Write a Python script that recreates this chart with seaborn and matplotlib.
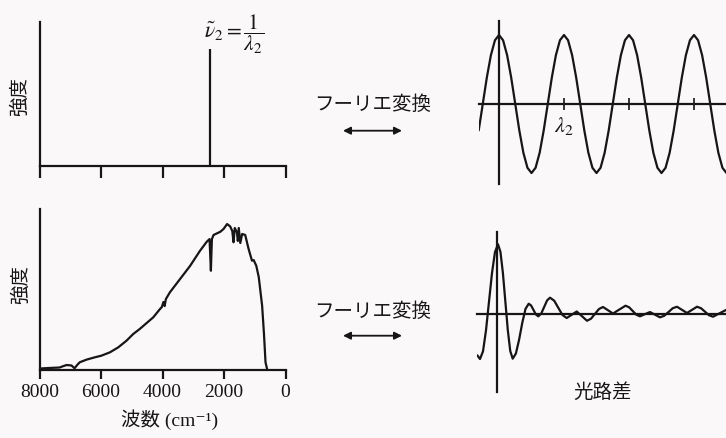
import matplotlib
matplotlib.use("Agg")
import matplotlib.pyplot as plt
import numpy as np
import seaborn as sns

# ---- data ----
# monochromatic line (top left)
line_nu = 2450          # cm-1
line_height = 0.81

# broadband source spectrum (bottom left), wavenumber cm-1 / relative intensity
spec_nu = [8000, 7670, 7350, 7220, 7120, 6960, 6860, 6760, 6690, 6470, 6200, 5990,
           5710, 5440, 5170, 4950, 4740, 4300, 4080, 4020, 3970, 3930, 3890, 3760,
           3430, 3100, 2780, 2560, 2470, 2440, 2426, 2410, 2393, 2340, 2120, 2015,
           1900, 1800, 1730, 1690, 1650, 1580, 1550, 1520, 1470, 1410, 1310, 1200,
           1090, 1035, 950, 870, 760, 700, 650, 600]
spec_int = [0.010, 0.014, 0.017, 0.027, 0.034, 0.031, 0.012, 0.038, 0.053, 0.071,
            0.087, 0.098, 0.121, 0.155, 0.201, 0.247, 0.281, 0.361, 0.418, 0.432,
            0.466, 0.438, 0.486, 0.532, 0.623, 0.714, 0.817, 0.879, 0.897, 0.747,
            0.680, 0.795, 0.897, 0.925, 0.947, 0.966, 1.000, 0.984, 0.952, 0.875,
            0.973, 0.943, 0.884, 0.973, 0.870, 0.932, 0.925, 0.829, 0.749, 0.753,
            0.714, 0.637, 0.440, 0.247, 0.053, 0.007]
spec_ticks = [8000, 6000, 4000, 2000, 0]

# interferogram of the single line (top right), path difference in units of lambda_2
cos_x = np.arange(-5, 57) / 16
cos_y = [-0.383, 0, 0.383, 0.707, 0.924,
         1, 0.924, 0.707, 0.383, 0, -0.383, -0.707, -0.924,
         -1, -0.924, -0.707, -0.383, 0, 0.383, 0.707, 0.924,
         1, 0.924, 0.707, 0.383, 0, -0.383, -0.707, -0.924,
         -1, -0.924, -0.707, -0.383, 0, 0.383, 0.707, 0.924,
         1, 0.924, 0.707, 0.383, 0, -0.383, -0.707, -0.924,
         -1, -0.924, -0.707, -0.383, 0, 0.383, 0.707, 0.924,
         1, 0.924, 0.707, 0.383, 0, -0.383, -0.707, -0.924, -1]
lambda_ticks = [1, 2, 3]

# interferogram of the broadband source (bottom right)
ifg_x = [-1.97, -1.7, -1.4, -1.1, -0.8, -0.5, -0.2, 0.1, 0.345, 0.59, 0.835, 1.08,
         1.325, 1.57, 1.89, 2.21, 2.53, 2.85, 3.17, 3.41, 3.65, 3.89, 4.13, 4.42,
         4.715, 5.01, 5.3, 5.72, 6.135, 6.55, 6.97, 7.47, 7.97, 8.485, 9.0, 9.4,
         9.8, 10.2, 10.6, 11.1, 11.6, 12.225, 12.85, 13.21, 13.575, 13.94, 14.3,
         14.8, 15.3, 15.8, 16.3, 16.725, 17.15, 17.575, 18.0, 18.5, 19.0, 19.5,
         20.0, 20.4, 20.8, 21.2, 21.6, 22.25, 22.9]
ifg_y = [-0.607, -0.662, -0.549, -0.240, 0.182, 0.603, 0.912, 1.025, 0.913, 0.604,
         0.184, -0.237, -0.544, -0.657, -0.581, -0.378, -0.128, 0.075, 0.151, 0.125,
         0.059, -0.007, -0.034, 0.006, 0.103, 0.200, 0.240, 0.196, 0.090, -0.015,
         -0.059, -0.011, 0.037, -0.031, -0.099, -0.069, 0.002, 0.074, 0.103, 0.055,
         0.007, 0.065, 0.122, 0.099, 0.044, -0.011, -0.034, -0.002, 0.029, -0.010,
         -0.049, -0.026, 0.029, 0.085, 0.107, 0.061, 0.015, 0.061, 0.107, 0.085,
         0.034, -0.018, -0.040, 0.010, 0.059]

# ---- style ----
sns.set_style("white")
plt.rcParams["font.family"] = ["Liberation Serif", "Noto Sans CJK JP", "DejaVu Serif"]
plt.rcParams["mathtext.fontset"] = "stix"
ink = "#161616"
paper = "#fbf8f9"
lw = 1.6

W, H = 726, 439
fig = plt.figure(figsize=(W / 100, H / 100), dpi=100, facecolor=paper)


def px_axes(x0, x1, ytop, ybot):
    ax = fig.add_axes([x0 / W, (H - ybot) / H, (x1 - x0) / W, (ybot - ytop) / H])
    ax.set_facecolor("none")
    return ax


def left_style(ax, tick_len):
    for s in ["top", "right"]:
        ax.spines[s].set_visible(False)
    for s in ["left", "bottom"]:
        ax.spines[s].set_linewidth(lw)
        ax.spines[s].set_color(ink)
    ax.set_xlim(8000, 0)
    ax.set_xticks(spec_ticks)
    ax.set_yticks([])
    ax.tick_params(axis="x", bottom=True, direction="out", length=tick_len, width=lw,
                   color=ink, labelsize=14, labelcolor=ink, pad=3)


# top left: single line
ax1 = px_axes(39.5, 285.5, 22.5, 167)
left_style(ax1, 8.6)
ax1.set_ylim(0, 1)
ax1.vlines(line_nu, 0, line_height, color=ink, lw=lw)
ax1.set_xticklabels([])
ax1.text(2640, 0.92, r"$\tilde{\nu}_2=\dfrac{1}{\lambda_2}$", fontsize=15.5,
         ha="left", va="center", color=ink)

# bottom left: source spectrum
ax2 = px_axes(39.5, 285.5, 210, 371)
left_style(ax2, 6.5)
ax2.set_ylim(0, 1.103)
sns.lineplot(x=spec_nu, y=spec_int, ax=ax2, color=ink, lw=lw, sort=False,
             errorbar=None)
ax2.set_xticklabels([str(t) for t in spec_ticks])
ax2.set_xlabel("")
ax2.set_ylabel("")


def wave_style(ax):
    for s in ["top", "right"]:
        ax.spines[s].set_visible(False)
    for s in ["left", "bottom"]:
        ax.spines[s].set_position(("data", 0))
        ax.spines[s].set_linewidth(lw)
        ax.spines[s].set_color(ink)
    ax.set_yticks([])


# top right: cosine
ax3 = px_axes(478.7, 726.5, 22, 185)
wave_style(ax3)
ax3.set_xlim(-0.3125, 3.5)
ax3.set_ylim(-1.159, 1.203)
sns.lineplot(x=cos_x, y=cos_y, ax=ax3, color=ink, lw=lw, sort=False,
             errorbar=None)
ax3.set_xticks(lambda_ticks)
ax3.set_xticklabels([r"$\lambda_2$", "", ""])
ax3.tick_params(axis="x", bottom=True, direction="inout", length=8.6, width=1.2,
                color=ink, labelsize=16, labelcolor=ink, pad=3)

# bottom right: centre burst
ax4 = px_axes(477.3, 726, 233, 393)
wave_style(ax4)
ax4.set_xlim(-1.97, 22.9)
ax4.set_ylim(-1.147, 1.206)
sns.lineplot(x=ifg_x, y=ifg_y, ax=ax4, color=ink, lw=lw, sort=False,
             errorbar=None)
ax4.set_xticks([])

# ---- texts ----
fig.text(20 / W, 1 - 96 / H, "強度", rotation=90, ha="center", va="center",
         fontsize=14, color=ink)
fig.text(21 / W, 1 - 285 / H, "強度", rotation=90, ha="center", va="center",
         fontsize=14, color=ink)
fig.text(170 / W, 1 - 420 / H, "波数 (cm⁻¹)", ha="center", va="center",
         fontsize=14, color=ink)
fig.text(603 / W, 1 - 393 / H, "光路差", ha="center", va="center",
         fontsize=14, color=ink)
for ty, ay in [(105, 131.7), (311.7, 336.7)]:
    fig.text(372.5 / W, 1 - ty / H, "フーリエ変換", ha="center", va="center",
             fontsize=14, color=ink)
    fig.add_artist(plt.Annotation(
        "", xy=(402 / W, 1 - ay / H), xytext=(343 / W, 1 - ay / H),
        xycoords="figure fraction", textcoords="figure fraction",
        arrowprops=dict(arrowstyle="<|-|>", color=ink, lw=1.3,
                        mutation_scale=11, shrinkA=0, shrinkB=0)))

fig.savefig("out.png", dpi=100, facecolor=paper)
